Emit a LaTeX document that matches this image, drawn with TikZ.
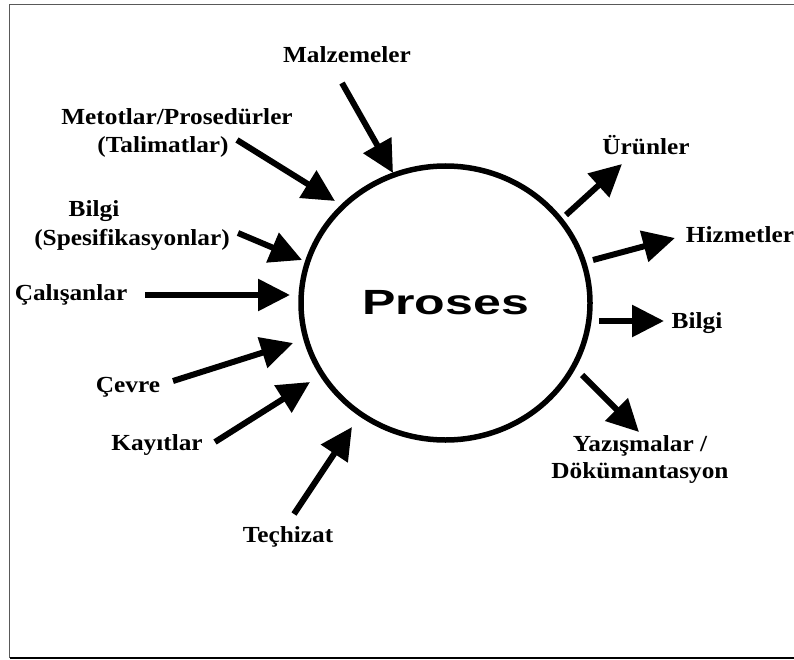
\documentclass[tikz,border=0pt]{standalone}
\usepackage{fontspec}
\setmainfont{Liberation Serif}
\newfontfamily\lblfont[FakeStretch=1.1]{Liberation Serif}
\newfontfamily\procfont{Liberation Sans}
\usetikzlibrary{arrows.meta,shapes.geometric}

\tikzset{
  lbl/.style={anchor=base, inner sep=0pt, font=\lblfont\bfseries\fontsize{23}{27}\selectfont},
  flow/.style={line width=6pt, -{Triangle[length=32pt,width=31pt]}},
  frameline/.style={line width=1.5pt}
}

\begin{document}
\begin{tikzpicture}[x=1pt, y=-1pt]
  \useasboundingbox (0,0) rectangle (794,660);

  % outer frame
  \draw[frameline, color=black!65] (9.5,658) -- (9.5,4.5) -- (794,4.5);
  \draw[frameline, color=black] (9.5,658) -- (794,658);

  % the process
  \node[ellipse, draw, line width=5.5pt, minimum width=289pt, minimum height=274pt, inner sep=0pt]
    (proc) at (445.5,303)
    {\procfont\bfseries\fontsize{35}{40}\selectfont\scalebox{1.43}[1]{Proses}};

  % inputs
  \node[lbl] (malz) at (347,63) {Malzemeler};
  \node[lbl] (meto) at (177,125) {Metotlar/Prosedürler};
  \node[lbl] (tali) at (163,153) {(Talimatlar)};
  \node[lbl] (bilg) at (94,217) {Bilgi};
  \node[lbl] (spes) at (132,245) {(Spesifikasyonlar)};
  \node[lbl] (cali) at (71,300) {Çalışanlar};
  \node[lbl] (cevr) at (128,392) {Çevre};
  \node[lbl] (kayi) at (157,450) {Kayıtlar};
  \node[lbl] (tech) at (288,542) {Teçhizat};

  % outputs
  \node[lbl] (urun) at (646,155) {Ürünler};
  \node[lbl] (hizm) at (740,242) {Hizmetler};
  \node[lbl] (bilo) at (697,328) {Bilgi};
  \node[lbl] (yazi) at (640,451) {Yazışmalar /};
  \node[lbl] (doku) at (640,478) {Dökümantasyon};

  % arrow ends
  \coordinate (malzA) at (342,83);   \coordinate (malzB) at (393,173);
  \coordinate (metoA) at (237,140);  \coordinate (metoB) at (335,201);
  \coordinate (spesA) at (238,233);  \coordinate (spesB) at (302,260);
  \coordinate (caliA) at (145,295);  \coordinate (caliB) at (290,295);
  \coordinate (cevrA) at (173,381);  \coordinate (cevrB) at (293,343);
  \coordinate (kayiA) at (215,442);  \coordinate (kayiB) at (310,382);
  \coordinate (techA) at (294,514);  \coordinate (techB) at (352,427);
  \coordinate (urunA) at (566,215);  \coordinate (urunB) at (622,164);
  \coordinate (hizmA) at (593,260);  \coordinate (hizmB) at (675,238);
  \coordinate (biloA) at (599,321);  \coordinate (biloB) at (664,321);
  \coordinate (yaziA) at (582,375);  \coordinate (yaziB) at (639,432);

  \draw[flow] (malzA) -- (malzB);
  \draw[flow] (metoA) -- (metoB);
  \draw[flow] (spesA) -- (spesB);
  \draw[flow] (caliA) -- (caliB);
  \draw[flow] (cevrA) -- (cevrB);
  \draw[flow] (kayiA) -- (kayiB);
  \draw[flow] (techA) -- (techB);
  \draw[flow] (urunA) -- (urunB);
  \draw[flow] (hizmA) -- (hizmB);
  \draw[flow] (biloA) -- (biloB);
  \draw[flow] (yaziA) -- (yaziB);
\end{tikzpicture}
\end{document}
